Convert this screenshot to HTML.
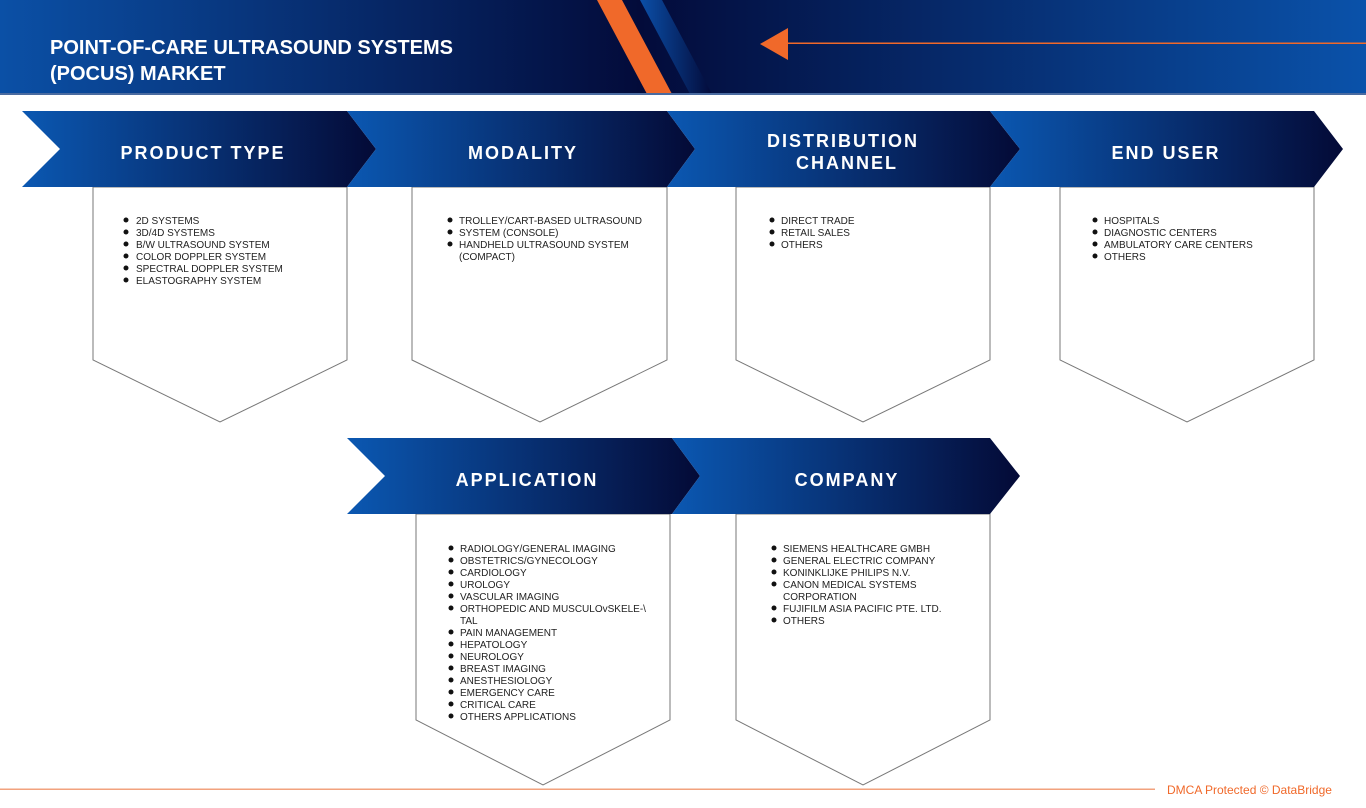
<!DOCTYPE html>
<html><head><meta charset="utf-8"><style>
html,body{margin:0;padding:0;background:#fff;width:1366px;height:808px;overflow:hidden}
svg{display:block}
.t{font-family:"Liberation Sans",sans-serif;font-size:10px;fill:#222}
.h{font-family:"Liberation Sans",sans-serif;font-size:18px;font-weight:bold;fill:#fff;letter-spacing:2px;text-anchor:middle}
</style></head><body>
<svg width="1366" height="808" viewBox="0 0 1366 808" xmlns="http://www.w3.org/2000/svg">
<defs>
<linearGradient id="hl" x1="0" x2="1" y1="0" y2="0"><stop offset="0" stop-color="#0b50a6"/><stop offset="1" stop-color="#030b3a"/></linearGradient>
<linearGradient id="hr" x1="0" x2="1" y1="0" y2="0"><stop offset="0" stop-color="#030b3a"/><stop offset="1" stop-color="#0a52aa"/></linearGradient>
<linearGradient id="cg" x1="0" x2="1" y1="0" y2="0"><stop offset="0" stop-color="#0b58b2"/><stop offset="1" stop-color="#040a36"/></linearGradient>
<linearGradient id="st" x1="0" x2="1" y1="0" y2="0"><stop offset="0" stop-color="#0b4fa8"/><stop offset="1" stop-color="#030b3a"/></linearGradient>
</defs>
<rect x="0" y="0" width="640" height="94" fill="url(#hl)"/>
<rect x="640" y="0" width="726" height="94" fill="url(#hr)"/>
<polygon points="640,0 662,0 712,94 690,94" fill="url(#st)"/>
<polygon points="597,0 622,0 672,94 647,94" fill="#f0692a"/>
<rect x="0" y="93" width="1366" height="2" fill="#4a6ba0"/>
<polygon points="760,44 788,28 788,60" fill="#f0692a"/>
<rect x="788" y="42.5" width="578" height="1.5" fill="#f0692a"/>
<text x="50" y="54" font-family="Liberation Sans,sans-serif" font-size="20" font-weight="bold" fill="#fff">POINT-OF-CARE ULTRASOUND SYSTEMS</text>
<text x="50" y="80" font-family="Liberation Sans,sans-serif" font-size="20" font-weight="bold" fill="#fff">(POCUS) MARKET</text>

<g fill="#fff" stroke="#777" stroke-width="1">
<polygon points="93,187 347,187 347,360 220,422 93,360"/>
<polygon points="412,187 667,187 667,360 540,422 412,360"/>
<polygon points="736,187 990,187 990,360 863,422 736,360"/>
<polygon points="1060,187 1314,187 1314,360 1187,422 1060,360"/>
<polygon points="416,514 670,514 670,720 543,785 416,720"/>
<polygon points="736,514 990,514 990,720 863,785 736,720"/>
</g>

<g fill="url(#cg)">
<polygon points="22,111 347,111 376,149 347,187 22,187 60,149"/>
<polygon points="347,111 667,111 695,149 667,187 347,187 376,149"/>
<polygon points="667,111 990,111 1020,149 990,187 667,187 695,149"/>
<polygon points="990,111 1314,111 1343,149 1314,187 990,187 1020,149"/>
<polygon points="347,438 672,438 700,476 672,514 347,514 385,476"/>
<polygon points="672,438 990,438 1020,476 990,514 672,514 700,476"/>
</g>
<text class="h" x="203" y="159">PRODUCT TYPE</text>
<text class="h" x="523" y="159">MODALITY</text>
<text class="h" x="843" y="147">DISTRIBUTION</text>
<text class="h" x="847" y="169">CHANNEL</text>
<text class="h" x="1166" y="159">END USER</text>
<text class="h" x="527" y="486">APPLICATION</text>
<text class="h" x="847" y="486">COMPANY</text>

<g fill="#111">
<circle cx="126" cy="220" r="2.5"/><circle cx="126" cy="232" r="2.5"/><circle cx="126" cy="244" r="2.5"/><circle cx="126" cy="256" r="2.5"/><circle cx="126" cy="268" r="2.5"/><circle cx="126" cy="280" r="2.5"/>
<circle cx="450" cy="220" r="2.5"/><circle cx="450" cy="232" r="2.5"/><circle cx="450" cy="244" r="2.5"/>
<circle cx="772" cy="220" r="2.5"/><circle cx="772" cy="232" r="2.5"/><circle cx="772" cy="244" r="2.5"/>
<circle cx="1095" cy="220" r="2.5"/><circle cx="1095" cy="232" r="2.5"/><circle cx="1095" cy="244" r="2.5"/><circle cx="1095" cy="256" r="2.5"/>
<circle cx="451" cy="548" r="2.5"/><circle cx="451" cy="560" r="2.5"/><circle cx="451" cy="572" r="2.5"/><circle cx="451" cy="584" r="2.5"/><circle cx="451" cy="596" r="2.5"/><circle cx="451" cy="608" r="2.5"/><circle cx="451" cy="632" r="2.5"/><circle cx="451" cy="644" r="2.5"/><circle cx="451" cy="656" r="2.5"/><circle cx="451" cy="668" r="2.5"/><circle cx="451" cy="680" r="2.5"/><circle cx="451" cy="692" r="2.5"/><circle cx="451" cy="704" r="2.5"/><circle cx="451" cy="716" r="2.5"/>
<circle cx="774" cy="548" r="2.5"/><circle cx="774" cy="560" r="2.5"/><circle cx="774" cy="572" r="2.5"/><circle cx="774" cy="584" r="2.5"/><circle cx="774" cy="608" r="2.5"/><circle cx="774" cy="620" r="2.5"/>
</g>
<g class="t">
<text x="136" y="224">2D SYSTEMS</text><text x="136" y="236">3D/4D SYSTEMS</text><text x="136" y="248">B/W ULTRASOUND SYSTEM</text><text x="136" y="260">COLOR DOPPLER SYSTEM</text><text x="136" y="272">SPECTRAL DOPPLER SYSTEM</text><text x="136" y="284">ELASTOGRAPHY SYSTEM</text>
<text x="459" y="224">TROLLEY/CART-BASED ULTRASOUND</text><text x="459" y="236">SYSTEM (CONSOLE)</text><text x="459" y="248">HANDHELD ULTRASOUND SYSTEM</text><text x="459" y="260">(COMPACT)</text>
<text x="781" y="224">DIRECT TRADE</text><text x="781" y="236">RETAIL SALES</text><text x="781" y="248">OTHERS</text>
<text x="1104" y="224">HOSPITALS</text><text x="1104" y="236">DIAGNOSTIC CENTERS</text><text x="1104" y="248">AMBULATORY CARE CENTERS</text><text x="1104" y="260">OTHERS</text>
<text x="460" y="552">RADIOLOGY/GENERAL IMAGING</text><text x="460" y="564">OBSTETRICS/GYNECOLOGY</text><text x="460" y="576">CARDIOLOGY</text><text x="460" y="588">UROLOGY</text><text x="460" y="600">VASCULAR IMAGING</text><text x="460" y="612">ORTHOPEDIC AND MUSCULOvSKELE-\</text><text x="460" y="624">TAL</text><text x="460" y="636">PAIN MANAGEMENT</text><text x="460" y="648">HEPATOLOGY</text><text x="460" y="660">NEUROLOGY</text><text x="460" y="672">BREAST IMAGING</text><text x="460" y="684">ANESTHESIOLOGY</text><text x="460" y="696">EMERGENCY CARE</text><text x="460" y="708">CRITICAL CARE</text><text x="460" y="720">OTHERS APPLICATIONS</text>
<text x="783" y="552">SIEMENS HEALTHCARE GMBH</text><text x="783" y="564">GENERAL ELECTRIC COMPANY</text><text x="783" y="576">KONINKLIJKE PHILIPS N.V.</text><text x="783" y="588">CANON MEDICAL SYSTEMS</text><text x="783" y="600">CORPORATION</text><text x="783" y="612">FUJIFILM ASIA PACIFIC PTE. LTD.</text><text x="783" y="624">OTHERS</text>
</g>
<rect x="0" y="788.5" width="1155" height="1.5" fill="#f2a27e"/>
<text x="1167" y="794" font-family="Liberation Sans,sans-serif" font-size="12" fill="#f0692a">DMCA Protected © DataBridge</text>
</svg>
</body></html>
